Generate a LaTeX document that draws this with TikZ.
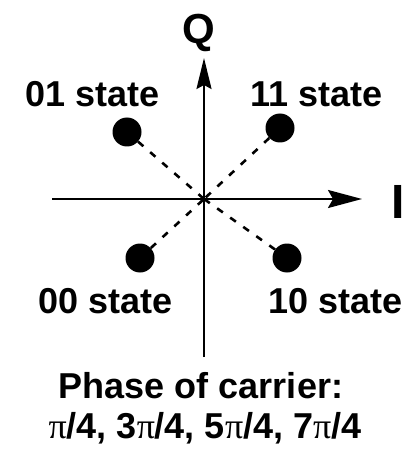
\documentclass[tikz,border=0pt]{standalone}
\usepackage{fontspec}
\setmainfont{Liberation Sans}
\newfontfamily\pifont{Liberation Serif}
\usetikzlibrary{arrows.meta}
\begin{document}
\begin{tikzpicture}[x=1pt,y=-1pt,
  axis/.style={line width=2.2pt},
  dot/.style={circle,fill=black,inner sep=0pt,minimum size=29pt},
  link/.style={line width=2.6pt,dash pattern=on 7pt off 9pt},
  lbl/.style={inner sep=0pt,font=\bfseries\fontsize{36}{40}\selectfont}]
\useasboundingbox (0,0) rectangle (416,449);
\coordinate (o) at (204,199);
\coordinate (qtop) at (204,58);
\coordinate (qbot) at (204,357);
\coordinate (ileft) at (52,199);
\coordinate (iright) at (362,199);
\draw[axis,-{Stealth[length=31pt,width=15pt,inset=4pt]}] (qbot) -- (qtop);
\draw[axis,-{Stealth[length=34pt,width=18pt,inset=5pt]}] (ileft) -- (iright);
\node[dot] (s01) at (127,132) {};
\node[dot] (s11) at (280,128) {};
\node[dot] (s00) at (140,258) {};
\node[dot] (s10) at (287,258) {};
\draw[link] (s01) -- (o);
\draw[link] (s11) -- (o);
\draw[link] (s00) -- (o);
\draw[link] (s10) -- (o);
\node[lbl,anchor=base,font=\bfseries\fontsize{42}{46}\selectfont] (q) at (199,44) {Q};
\node[lbl,anchor=base,font=\bfseries\fontsize{48}{52}\selectfont] (i) at (398,218) {I};
\node[lbl,anchor=base west] (l01) at (25,107) {01 state};
\node[lbl,anchor=base west] (l11) at (250,107) {11 state};
\node[lbl,anchor=base west] (l00) at (38,313) {00 state};
\node[lbl,anchor=base west] (l10) at (268,313) {10 state};
\node[lbl,anchor=base] (ph) at (201,398) {Phase of carrier:};
\node[lbl,anchor=base] (pv) at (205,438) {{\pifont\mdseries π}/4, 3{\pifont\mdseries π}/4, 5{\pifont\mdseries π}/4, 7{\pifont\mdseries π}/4};
\end{tikzpicture}
\end{document}
